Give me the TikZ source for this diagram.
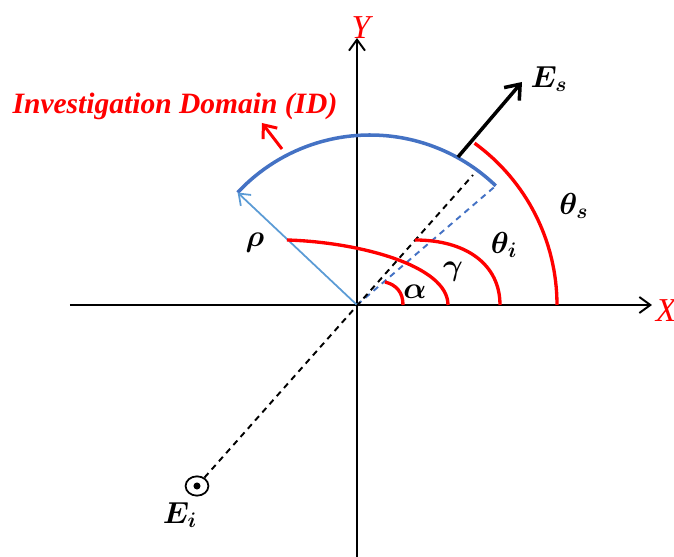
\documentclass[tikz,border=0pt]{standalone}
\usepackage{amsmath,amssymb,bm}
\usepackage{fontspec}
\setmainfont{Liberation Serif}
\usetikzlibrary{arrows.meta,positioning,calc,shapes.geometric}
\definecolor{idred}{RGB}{255,0,0}
\definecolor{idblue}{RGB}{68,114,196}
\definecolor{rhoblue}{RGB}{91,155,213}
\newcommand{\mlb}[1]{\fontsize{18.5}{20}\selectfont$\bm{#1}$}
\tikzset{
  axs/.style={-{Straight Barb[length=2.2mm, width=3.2mm]}, black, line width=1.1pt},
  axl/.style={font=\fontsize{19}{22}\selectfont\itshape, text=idred, inner sep=0pt},
  domarc/.style={idblue, line width=2pt},
  rhoar/.style={-{Straight Barb[length=2mm, width=3mm]}, rhoblue, line width=1pt},
  bdash/.style={idblue, line width=1.1pt, dash pattern=on 3.4pt off 2.8pt},
  kdash/.style={black, line width=1.1pt, dash pattern=on 3.4pt off 2.8pt},
  esar/.style={-{Straight Barb[length=2.6mm, width=4mm]}, black, line width=2pt},
  angarc/.style={idred, line width=1.9pt},
  mlbl/.style={inner sep=0pt},
  idlbl/.style={font=\fontsize{16.8}{19}\selectfont\bfseries\itshape, text=idred, inner sep=0pt},
  idar/.style={-{Straight Barb[length=2.2mm, width=3.6mm]}, idred, line width=1.7pt},
  eicirc/.style={draw, ellipse, minimum width=13pt, minimum height=11pt, inner sep=0pt, line width=1pt},
  eidot/.style={circle, fill=black, minimum size=4pt, inner sep=0pt},
}

\begin{document}
\begin{tikzpicture}[x=0.02cm, y=0.02cm]
\useasboundingbox (-357,-252) rectangle (317,305);
% axes
\coordinate (O) at (0,0);
\coordinate (xs) at (-287,0);
\coordinate (xe) at (295,0);
\coordinate (ys) at (0,-252);
\coordinate (ye) at (0,267);
\draw[axs] (xs) -- (xe);
\draw[axs] (ys) -- (ye);
\node[axl] (X) at (309,-6) {X};
\node[axl] (Y) at (4,277) {Y};
% investigation domain
\coordinate (dc) at (13,-11);
\coordinate (domL) at ($(dc)+(137:181)$);
\coordinate (domR) at ($(dc)+(46:181)$);
\draw[domarc] (domL) arc[start angle=137, end angle=46, radius=181];
\draw[bdash] (O) -- (domR);
\draw[rhoar] (O) -- (domL);
\node[idlbl] (idt) at (-182,199) {Investigation Domain (ID)};
\coordinate (ida0) at (-75,156);
\coordinate (ida1) at (-95,182);
\draw[idar] (ida0) -- (ida1);
% incident and scattered fields
\node[eicirc] (Ei) at (-160,-181) {};
\node[eidot] (eid) at (Ei.center) {};
\coordinate (kd) at (116,130);
\draw[kdash] (Ei) -- (kd);
\coordinate (es0) at (101,148);
\coordinate (es1) at (165,223);
\draw[esar] (es0) -- (es1);
\node[mlbl] (Es) at (192,226) {\mlb{E_s}};
\node[mlbl] (Eil) at (-177,-210) {\mlb{E_i}};
% angles
\draw[angarc] (28,23) .. controls (40,20) and (46,12) .. (46,0);
\draw[angarc] (-70,65) .. controls (0,63) and (91,40) .. (91,0);
\draw[angarc] (58,65) .. controls (110,65) and (143,40) .. (143,0);
\draw[angarc] (200,0) arc[start angle=0, end angle=54, radius=200];
\node[mlbl] (rho) at (-102,62) {\mlb{\rho}};
\node[mlbl] (al) at (58,13) {\mlb{\alpha}};
\node[mlbl] (ga) at (96,33) {\mlb{\gamma}};
\node[mlbl] (thi) at (147,60) {\mlb{\theta_i}};
\node[mlbl] (ths) at (217,99) {\mlb{\theta_s}};
\end{tikzpicture}
\end{document}
